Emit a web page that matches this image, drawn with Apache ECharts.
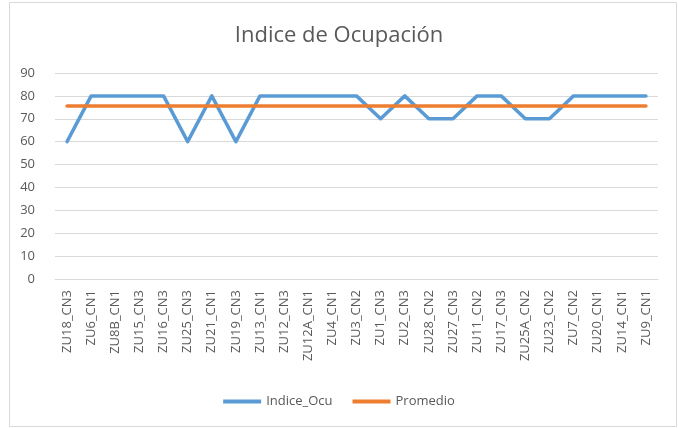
<!DOCTYPE html>
<html>
<head>
<meta charset="utf-8">
<script src="https://cdn.jsdelivr.net/npm/echarts@6/dist/echarts.min.js"></script>
<style>
  html, body { margin: 0; padding: 0; background: #fff; }
  #chart { width: 678px; height: 428px; }
</style>
</head>
<body>
<div id="chart"></div>
<script>
// Occupancy index per zone, with the overall average drawn as a flat line
const categories = [
  'ZU18_CN3', 'ZU6_CN1', 'ZU8B_CN1', 'ZU15_CN3', 'ZU16_CN3', 'ZU25_CN3',
  'ZU21_CN1', 'ZU19_CN3', 'ZU13_CN1', 'ZU12_CN3', 'ZU12A_CN1', 'ZU4_CN1',
  'ZU3_CN2', 'ZU1_CN3', 'ZU2_CN3', 'ZU28_CN2', 'ZU27_CN3', 'ZU11_CN2',
  'ZU17_CN3', 'ZU25A_CN2', 'ZU23_CN2', 'ZU7_CN2', 'ZU20_CN1', 'ZU14_CN1',
  'ZU9_CN1'
];
const indiceOcu = [
  60, 80, 80, 80, 80, 60, 80, 60, 80, 80, 80, 80, 80,
  70, 80, 70, 70, 80, 80, 70, 70, 80, 80, 80, 80
];
const promedioValue = 75.6;
const promedio = categories.map(() => promedioValue);
const yTicks = [0, 10, 20, 30, 40, 50, 60, 70, 80, 90];

const textColor = '#595959';
const gridColor = '#d9d9d9';
const font = '"Open Sans", "Liberation Sans", sans-serif';

const chart = echarts.init(document.getElementById('chart'), null, { renderer: 'canvas' });

chart.setOption({
  animation: false,
  backgroundColor: '#ffffff',
  title: {
    text: 'Indice de Ocupación',
    left: 'center',
    top: 20,
    textStyle: { color: textColor, fontFamily: font, fontSize: 22, fontWeight: 'normal' }
  },
  graphic: [{
    type: 'rect',
    shape: { x: 9.5, y: 2.5, width: 667, height: 424 },
    style: { fill: 'none', stroke: gridColor, lineWidth: 1 },
    silent: true
  }],
  legend: {
    bottom: 15,
    left: 'center',
    itemWidth: 38,
    itemHeight: 4,
    itemGap: 20,
    icon: 'rect',
    textStyle: { color: textColor, fontFamily: font, fontSize: 13 },
    data: ['Indice_Ocu', 'Promedio']
  },
  grid: { left: 55, right: 20, top: 73, bottom: 149 },
  xAxis: {
    type: 'category',
    data: categories,
    boundaryGap: true,
    axisLine: { lineStyle: { color: gridColor, width: 1 } },
    axisTick: { show: false },
    axisLabel: {
      rotate: 90,
      interval: 0,
      margin: 11,
      color: textColor,
      fontFamily: font,
      fontSize: 13
    }
  },
  yAxis: {
    type: 'value',
    min: yTicks[0],
    max: yTicks[yTicks.length - 1],
    interval: 10,
    axisLine: { show: false },
    axisTick: { show: false },
    axisLabel: { color: textColor, fontFamily: font, fontSize: 13, margin: 20 },
    splitLine: { lineStyle: { color: gridColor, width: 1 } }
  },
  series: [
    {
      name: 'Indice_Ocu',
      type: 'line',
      data: indiceOcu,
      symbol: 'none',
      color: '#5b9bd5',
      lineStyle: { color: '#5b9bd5', width: 3.5, cap: 'round', join: 'round' }
    },
    {
      name: 'Promedio',
      type: 'line',
      data: promedio,
      symbol: 'none',
      color: '#ed7d31',
      lineStyle: { color: '#ed7d31', width: 3.5, cap: 'round' }
    }
  ]
});
</script>
</body>
</html>
